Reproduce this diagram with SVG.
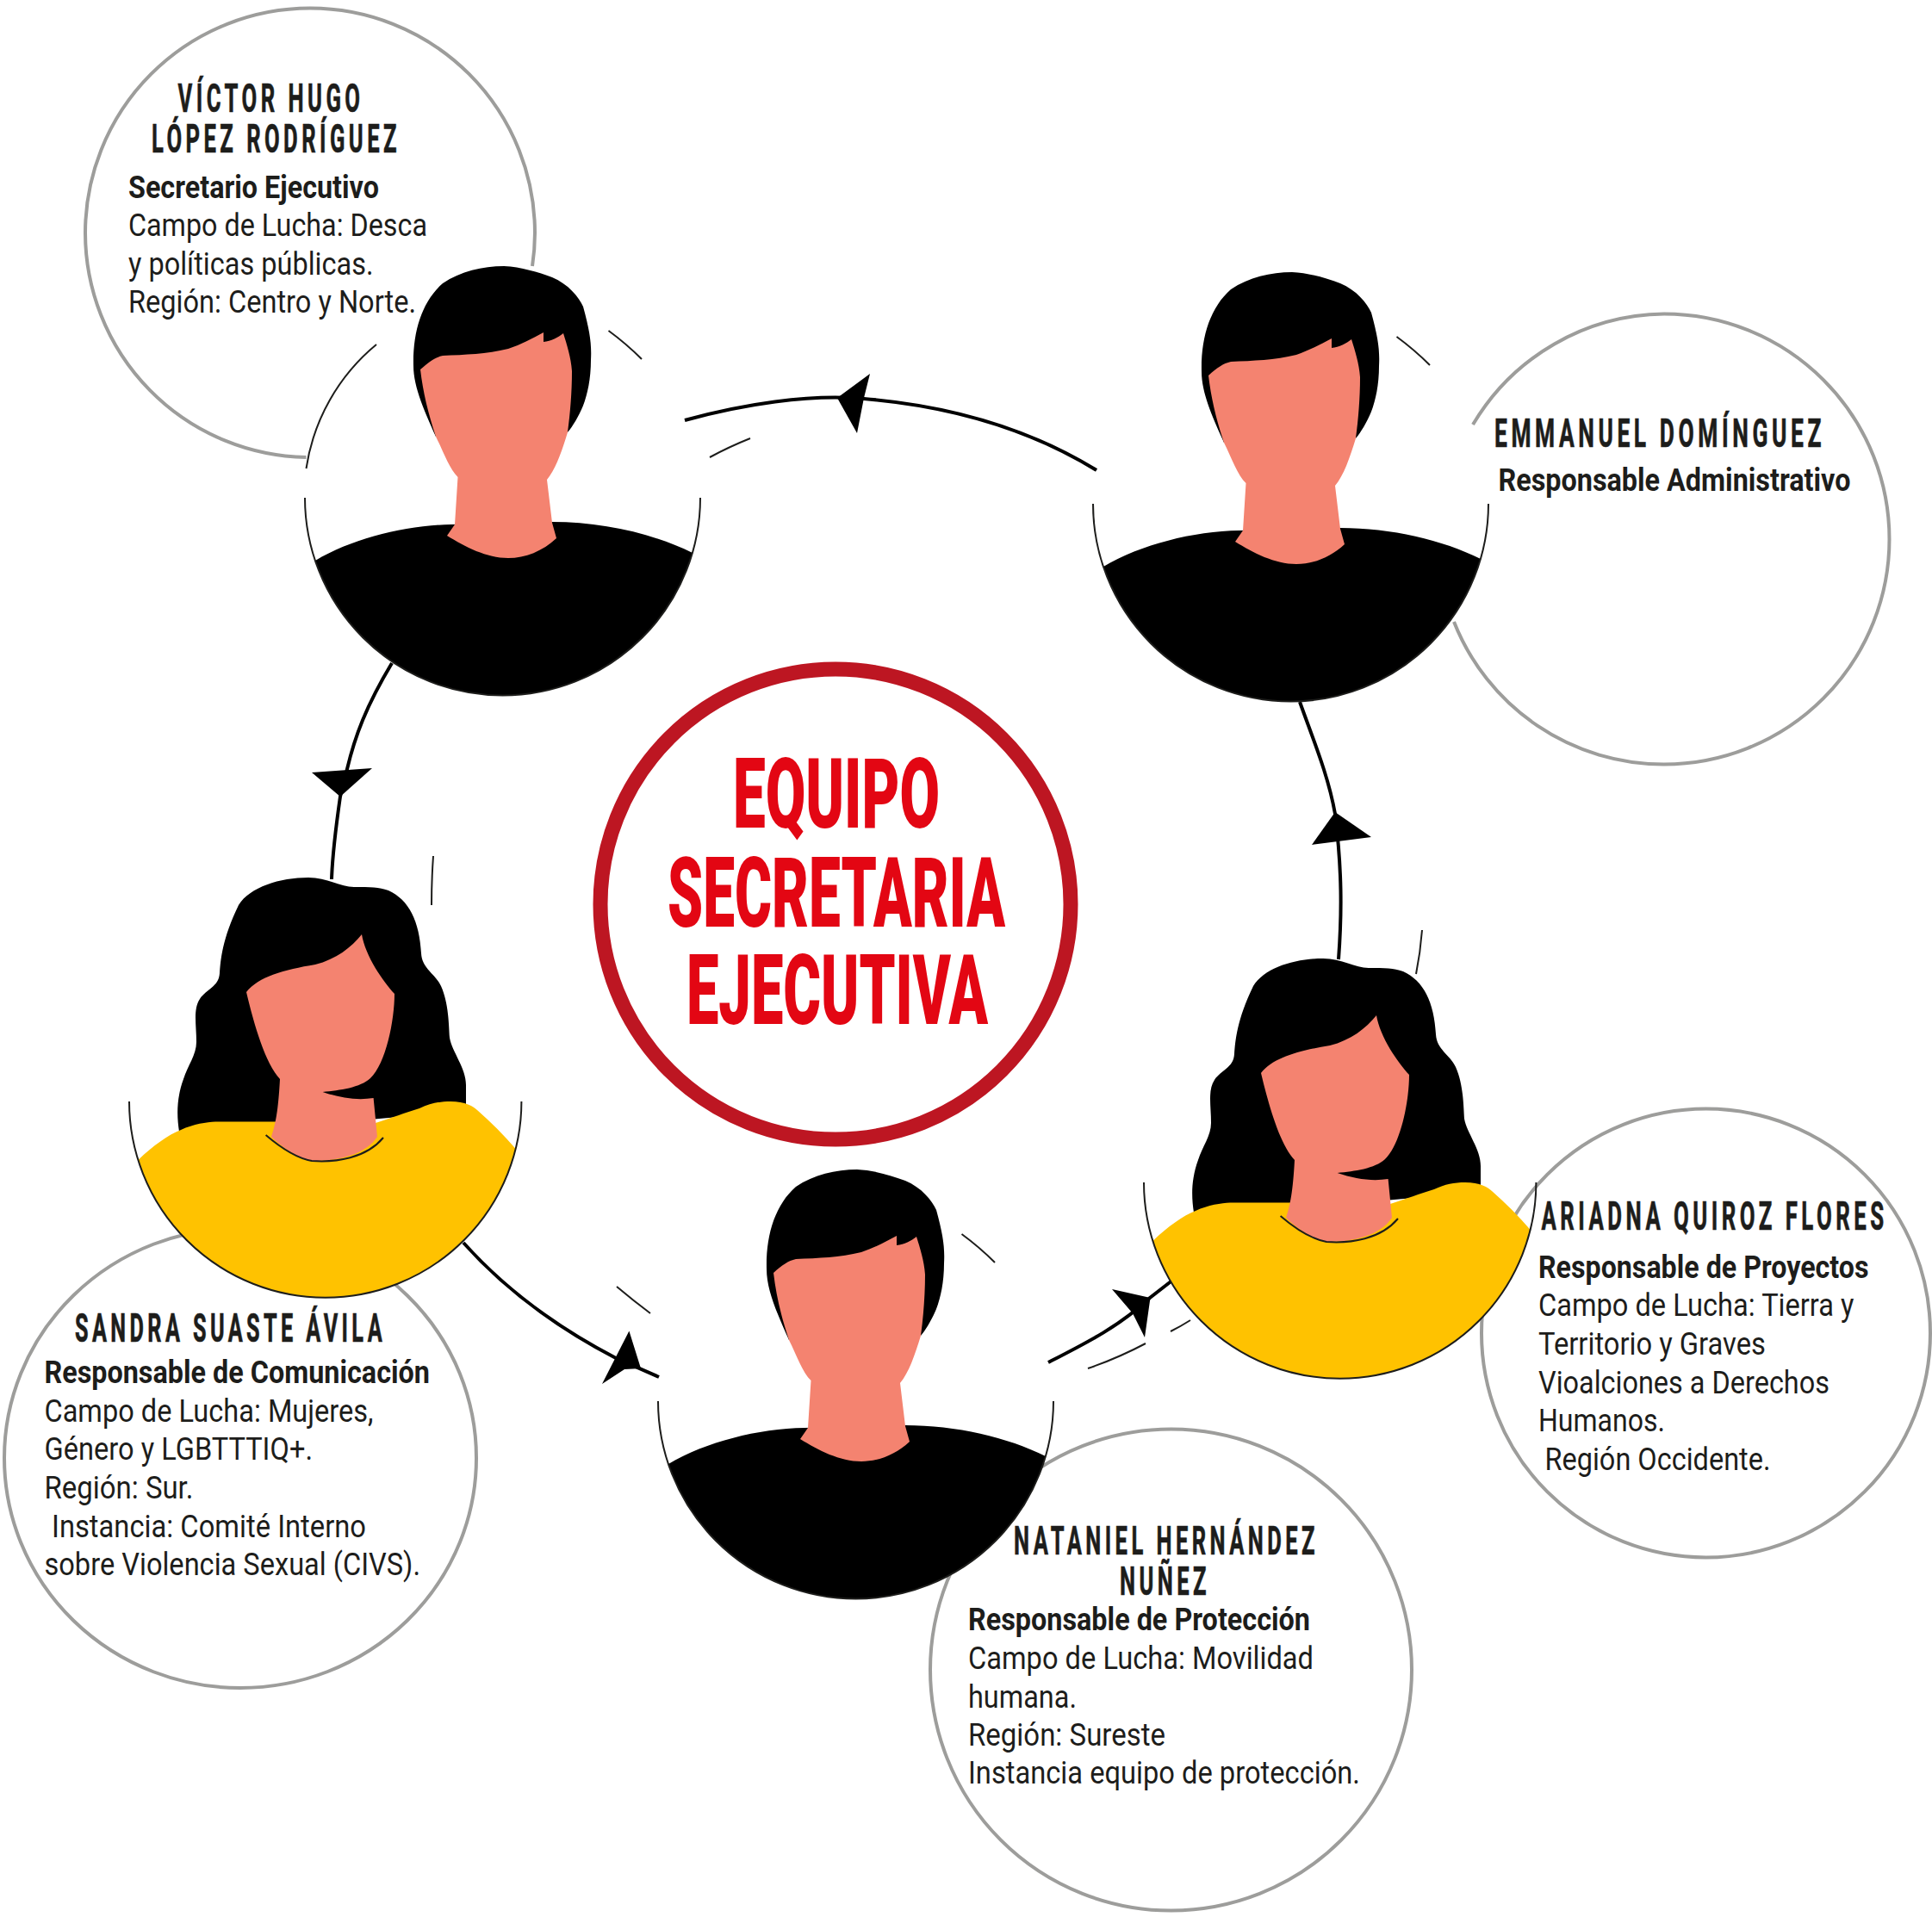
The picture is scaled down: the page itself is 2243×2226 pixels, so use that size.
<svg xmlns="http://www.w3.org/2000/svg" width="2243" height="2226" viewBox="0 0 2243 2226">
<style>
text{font-family:"Roboto","Liberation Sans",sans-serif;fill:#1d1d1b}
.n{font-size:46px;font-weight:700;letter-spacing:8px;stroke:#1d1d1b;stroke-width:.7px}
.r{font-size:37px;font-weight:700}
.b{font-size:37px;font-weight:400}
.t{font-size:114px;font-weight:900;fill:#e30613}
.g{fill:none;stroke:#9d9d9b;stroke-width:4}
.c{fill:none;stroke:#000;stroke-width:4}
.f{fill:none;stroke:#1d1d1b;stroke-width:2}
.a{fill:#000}
.skin{fill:#f48370}
.yel{fill:#ffc200}
</style>
<defs>
<g id="man">
<path class="a" d="M506,507C494,480 480,450 480,425C479,385 490,350 514,329C535,315 560,309 585,309C605,310 625,316 641,322C660,330 672,345 677,356C685,385 687,400 686,418C686,440 682,458 677,471C672,483 665,495 659,502Z"/>
<path class="a" d="M366,651C410,625 470,610 524,609L641,606C700,606 760,620 804,642A229.5,229.5 0 0 1 366,651Z"/>
<path class="skin" d="M488,429C498,420 505,415 514,413C540,412 565,411 590,405C605,400 618,393 631,386L631,397C640,396 648,392 654,387C658,400 663,415 664,431C664,455 662,480 659,502C652,525 645,545 635,557L641,607L646,625C630,640 610,648 590,648C565,648 540,635 519,622L528,609L531.5,554C522,545 515,525 506,507C497,480 491,455 488,429Z"/>
<path class="f" d="M354,578A229.5,229.5 0 0 0 813,578"/>
<path class="f" d="M706.5,384Q727,399 745,417"/>
</g>
<g id="woman">
<path class="a" d="M208,1314C205,1295 205,1275 213,1253C218,1237 228,1225 228,1210C228,1190 224,1172 232,1160C240,1148 254,1146 255,1130C256,1115 258,1090 277,1051C290,1030 325,1019 358,1019C380,1019 395,1030 411,1030C430,1030 440,1030 451,1034C475,1045 487,1070 489,1107C490,1125 505,1130 512,1145C521,1165 521,1190 522,1205C525,1222 541,1240 541,1260L541,1290L208,1320Z"/>
<path class="yel" d="M160.4,1347C178,1330 195,1318 210,1312C225,1305 240,1303 250,1302.5L322,1302.5L436,1304C455,1298 470,1292 487,1287C500,1281 510,1279 523,1279C540,1279 550,1285 554,1289C570,1303 585,1318 598.7,1334A227.7,227.7 0 0 1 160.4,1347Z"/>
<path class="skin" d="M286,1152C300,1134 330,1126 366,1120C390,1114 408,1100 420,1085C424,1110 445,1140 458,1154C458,1185 448,1235 430,1252C418,1263 395,1266 374.6,1268C395,1275 415,1278 433.6,1275L438,1320C425,1340 395,1348 362,1348C345,1345 325,1330 315,1320C320,1305 323,1290 325,1253C308,1235 295,1190 286,1152Z"/>
<path class="f" d="M308.6,1318C325,1332 345,1345 362,1348C390,1350 425,1345 445,1321"/>
<path class="f" d="M150,1279A227.7,227.7 0 0 0 605.4,1279"/>
</g>
</defs>
<rect width="2243" height="2226" fill="#fff"/>
<g id="connectors">
<path class="c" d="M1273,546C1190,495 1100,471 1003,463C940,457 860,470 795,488"/>
<path class="a" d="M972,462L1010,434L1003,462L995,503Z"/>
<path class="c" d="M455,770C425,820 412,855 403,893L395,925C390,960 386,990 385,1021"/>
<path class="a" d="M362,897L432,892L395,925Z"/>
<path class="c" d="M538,1443C580,1490 640,1538 715,1577L765,1599"/>
<path class="a" d="M730.4,1545.6L699,1607L725,1590L744,1589Z"/>
<path class="c" d="M1217,1582C1260,1560 1300,1540 1335,1507L1362,1486"/>
<path class="a" d="M1291,1497L1335.5,1507L1329,1553L1315,1525Z"/>
<path class="c" d="M1554,1114C1558,1060 1558,1010 1550,945C1542,900 1525,860 1509,815"/>
<path class="a" d="M1550,943L1592,972L1523,981Z"/>
<path class="f" d="M824,531Q846,519 871,509"/>
<path class="f" d="M503,994Q501,1022 501,1051"/>
<path class="f" d="M1651,1080Q1649,1106 1644,1131"/>
<path class="f" d="M1263,1589Q1298,1577 1330,1560"/>
<path class="f" d="M1359,1546Q1371,1540 1382,1533"/>
<path class="f" d="M716,1494Q735,1510 755,1525"/>
</g>
<g id="center">
<circle cx="970" cy="1050" r="273" fill="none" stroke="#bd1622" stroke-width="17"/>
<text class="t" transform="scale(.6,1)" x="1418.33" y="961.5" textLength="400" lengthAdjust="spacingAndGlyphs">EQUIPO</text>
<text class="t" transform="scale(.6,1)" x="1291.67" y="1076" textLength="653.33" lengthAdjust="spacingAndGlyphs">SECRETARIA</text>
<text class="t" transform="scale(.6,1)" x="1328.33" y="1189" textLength="583.33" lengthAdjust="spacingAndGlyphs">EJECUTIVA</text>
</g>
<g id="node-victor">
<path class="g" d="M355.5,531A261,261 0 0 1 99,270.5A261,261 0 0 1 360,9.5A261,261 0 0 1 621,270.5A261,261 0 0 1 618,309"/>
<path class="f" d="M437,400A231,231 0 0 0 355.5,544"/>
<use href="#man"/>
<text class="n" transform="scale(.6,1)" x="344.17" y="130" textLength="360" lengthAdjust="spacingAndGlyphs">VÍCTOR HUGO</text>
<text class="n" transform="scale(.6,1)" x="293.33" y="177" textLength="481.67" lengthAdjust="spacingAndGlyphs">LÓPEZ RODRÍGUEZ</text>
<text class="r" transform="scale(.9,1)" x="165.56" y="230" textLength="323.33" lengthAdjust="spacingAndGlyphs">Secretario Ejecutivo</text>
<text class="b" transform="scale(.9,1)" x="165.56" y="274.5" textLength="385.56" lengthAdjust="spacingAndGlyphs">Campo de Lucha: Desca</text>
<text class="b" transform="scale(.9,1)" x="165.56" y="319" textLength="316.11" lengthAdjust="spacingAndGlyphs">y políticas públicas.</text>
<text class="b" transform="scale(.9,1)" x="165.56" y="363.5" textLength="371.11" lengthAdjust="spacingAndGlyphs">Región: Centro y Norte.</text>
</g>
<g id="node-emmanuel">
<path class="g" d="M1710,493A261.5,261.5 0 0 1 1932,364.5A261.5,261.5 0 0 1 2193.5,626A261.5,261.5 0 0 1 1932,887.5A261.5,261.5 0 0 1 1688,722"/>
<use href="#man" transform="translate(915,7)"/>
<text class="n" transform="scale(.6,1)" x="2891.67" y="519" textLength="640" lengthAdjust="spacingAndGlyphs">EMMANUEL DOMÍNGUEZ</text>
<text class="r" transform="scale(.9,1)" x="1932.78" y="570" textLength="454.44" lengthAdjust="spacingAndGlyphs">Responsable Administrativo</text>
</g>
<g id="node-sandra">
<ellipse class="g" cx="279" cy="1693" rx="274" ry="267"/>
<use href="#woman"/>
<text class="n" transform="scale(.6,1)" x="145" y="1558" textLength="601.67" lengthAdjust="spacingAndGlyphs">SANDRA SUASTE ÁVILA</text>
<text class="r" transform="scale(.9,1)" x="57.22" y="1606.5" textLength="497.22" lengthAdjust="spacingAndGlyphs">Responsable de Comunicación</text>
<text class="b" transform="scale(.9,1)" x="57.22" y="1651" textLength="424.44" lengthAdjust="spacingAndGlyphs">Campo de Lucha: Mujeres,</text>
<text class="b" transform="scale(.9,1)" x="57.22" y="1695.5" textLength="346.11" lengthAdjust="spacingAndGlyphs">Género y LGBTTTIQ+.</text>
<text class="b" transform="scale(.9,1)" x="57.22" y="1740.5" textLength="192.22" lengthAdjust="spacingAndGlyphs">Región: Sur.</text>
<text class="b" transform="scale(.9,1)" x="66.67" y="1785" textLength="405.56" lengthAdjust="spacingAndGlyphs">Instancia: Comité Interno</text>
<text class="b" transform="scale(.9,1)" x="57.22" y="1829.5" textLength="485" lengthAdjust="spacingAndGlyphs">sobre Violencia Sexual (CIVS).</text>
</g>
<g id="node-nataniel">
<circle class="g" cx="1359.5" cy="1939" r="279.5"/>
<use href="#man" transform="translate(410,1049)"/>
<text class="n" transform="scale(.6,1)" x="1961.67" y="1805" textLength="590" lengthAdjust="spacingAndGlyphs">NATANIEL HERNÁNDEZ</text>
<text class="n" transform="scale(.6,1)" x="2166.67" y="1852" textLength="175" lengthAdjust="spacingAndGlyphs">NUÑEZ</text>
<text class="r" transform="scale(.9,1)" x="1248.89" y="1893.5" textLength="441.11" lengthAdjust="spacingAndGlyphs">Responsable de Protección</text>
<text class="b" transform="scale(.9,1)" x="1248.89" y="1938.5" textLength="445.56" lengthAdjust="spacingAndGlyphs">Campo de Lucha: Movilidad</text>
<text class="b" transform="scale(.9,1)" x="1248.89" y="1983" textLength="140" lengthAdjust="spacingAndGlyphs">humana.</text>
<text class="b" transform="scale(.9,1)" x="1248.89" y="2027" textLength="254.44" lengthAdjust="spacingAndGlyphs">Región: Sureste</text>
<text class="b" transform="scale(.9,1)" x="1248.89" y="2071.5" textLength="505.56" lengthAdjust="spacingAndGlyphs">Instancia equipo de protección.</text>
</g>
<g id="node-ariadna">
<circle class="g" cx="1980.5" cy="1548" r="260.5"/>
<use href="#woman" transform="translate(1178,94)"/>
<text class="n" transform="scale(.6,1)" x="2982.5" y="1428" textLength="670" lengthAdjust="spacingAndGlyphs">ARIADNA QUIROZ FLORES</text>
<text class="r" transform="scale(.9,1)" x="1984.44" y="1484.5" textLength="426.11" lengthAdjust="spacingAndGlyphs">Responsable de Proyectos</text>
<text class="b" transform="scale(.9,1)" x="1984.44" y="1528.5" textLength="407.22" lengthAdjust="spacingAndGlyphs">Campo de Lucha: Tierra y</text>
<text class="b" transform="scale(.9,1)" x="1984.44" y="1573.5" textLength="293.33" lengthAdjust="spacingAndGlyphs">Territorio y Graves</text>
<text class="b" transform="scale(.9,1)" x="1984.44" y="1618" textLength="375.56" lengthAdjust="spacingAndGlyphs">Vioalciones a Derechos</text>
<text class="b" transform="scale(.9,1)" x="1984.44" y="1662.5" textLength="163.33" lengthAdjust="spacingAndGlyphs">Humanos.</text>
<text class="b" transform="scale(.9,1)" x="1992.78" y="1707.5" textLength="291.11" lengthAdjust="spacingAndGlyphs">Región Occidente.</text>
</g>
</svg>
